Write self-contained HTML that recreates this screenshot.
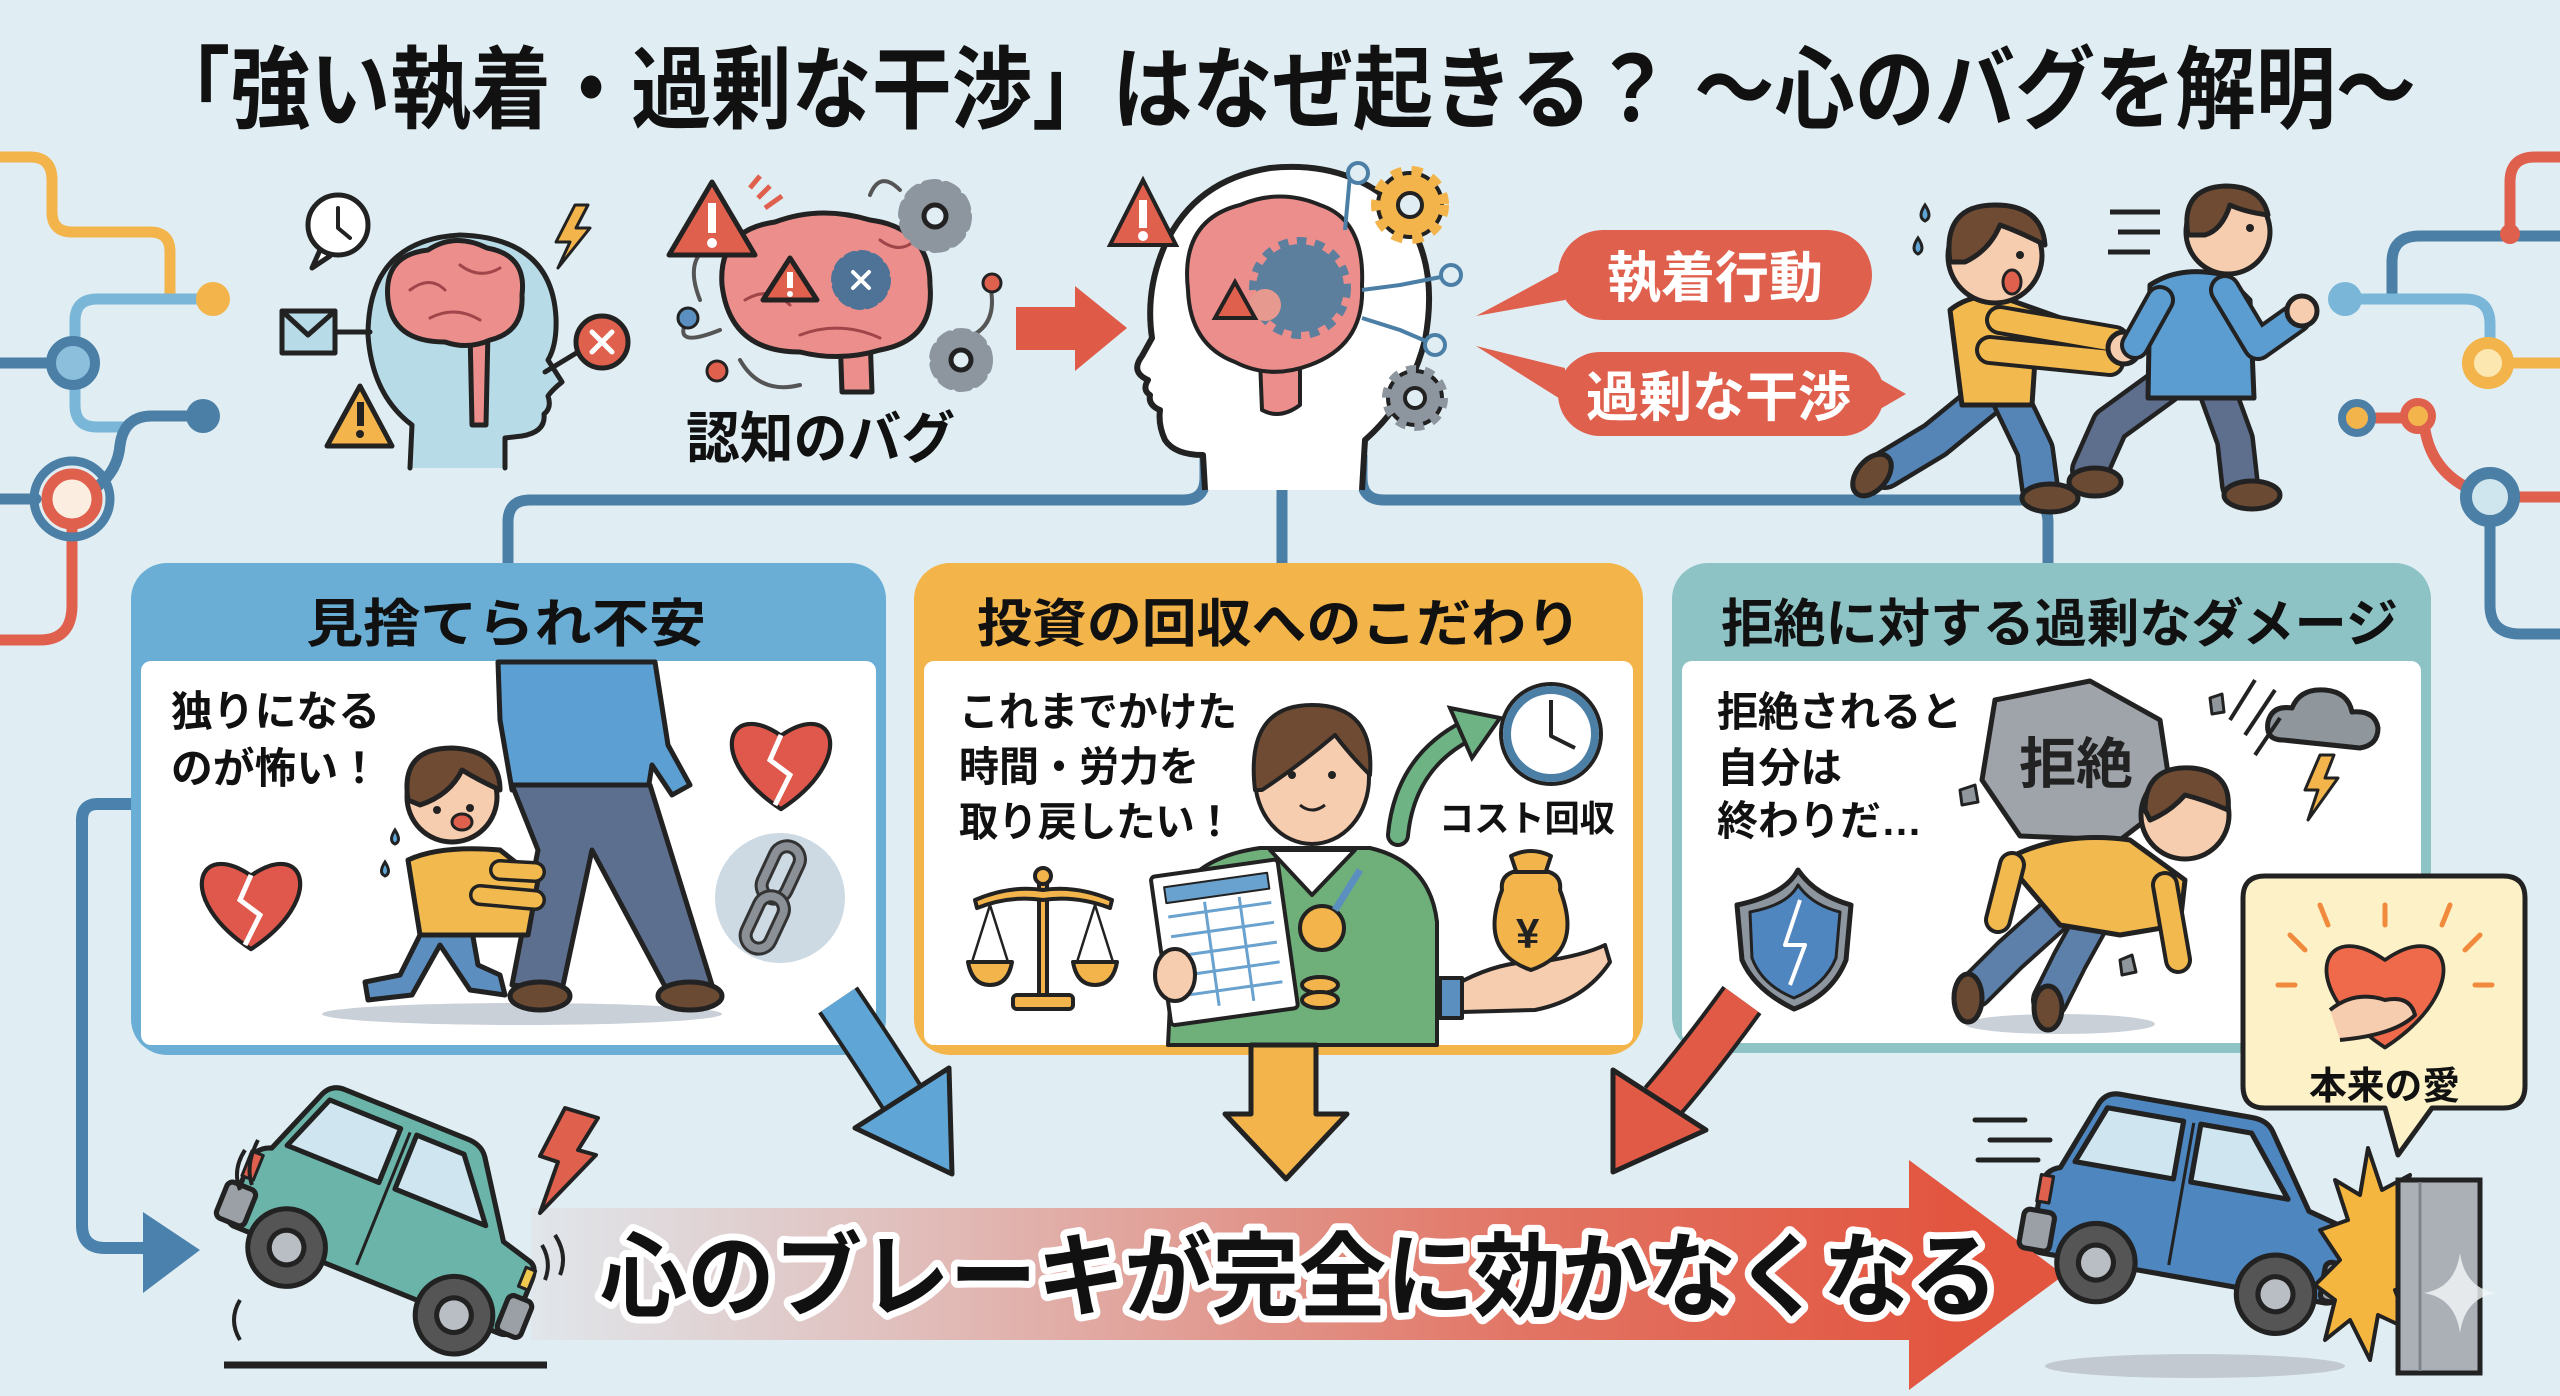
<!DOCTYPE html>
<html><head><meta charset="utf-8"><style>
html,body{margin:0;padding:0;background:#e0eef4;}
svg{display:block}
text{font-family:"Liberation Sans","Noto Sans CJK JP",sans-serif;font-weight:700}
</style></head><body>
<svg width="2560" height="1396" viewBox="0 0 2560 1396" xmlns="http://www.w3.org/2000/svg">
<defs>
<linearGradient id="rg" gradientUnits="userSpaceOnUse" x1="531" y1="0" x2="1960" y2="0">
<stop offset="0" stop-color="#e2553f" stop-opacity="0.05"/>
<stop offset="0.3" stop-color="#e2553f" stop-opacity="0.35"/>
<stop offset="0.7" stop-color="#e2553f" stop-opacity="0.8"/>
<stop offset="1" stop-color="#e2553f"/>
</linearGradient>
<path id="heart" d="M0,42 C-72,-5 -52,-64 0,-28 C52,-64 72,-5 0,42 Z"/>
</defs>
<rect width="2560" height="1396" fill="#e0eef4"/>

<!-- title -->
<text x="150" y="121" font-size="90" font-weight="900" textLength="2266" lengthAdjust="spacingAndGlyphs" fill="#111">「強い執着・過剰な干渉」はなぜ起きる？ ～心のバグを解明～</text>

<!-- left circuit -->
<g fill="none" stroke-width="11" stroke-linecap="round">
<path d="M0,157 H30 Q52,157 52,180 V212 Q52,232 72,232 H150 Q170,232 170,252 V295" stroke="#f2b44b"/>
<path d="M213,299 H97 Q75,299 75,321 V405 Q75,427 97,427 H125" stroke="#7ab6d8"/>
<path d="M0,363 H50" stroke="#4b7fa6"/>
<path d="M98,486 Q118,470 120,445 Q124,416 152,416 H203" stroke="#4b7fa6"/>
<path d="M0,499 H36" stroke="#4b7fa6"/>
<path d="M72,527 V605 Q72,640 40,640 H0" stroke="#e0604e"/>
</g>
<circle cx="213" cy="299" r="17" fill="#f2b44b"/>
<circle cx="73" cy="363" r="22" fill="#8cbfdc" stroke="#4b7fa6" stroke-width="10"/>
<circle cx="203" cy="416" r="17" fill="#4b7fa6"/>
<circle cx="72" cy="499" r="38" fill="none" stroke="#4b7fa6" stroke-width="9"/>
<circle cx="72" cy="499" r="25" fill="#fbeee0" stroke="#e0604e" stroke-width="11"/>

<!-- right circuit -->
<g fill="none" stroke-width="11" stroke-linecap="round">
<path d="M2560,157 H2535 Q2510,157 2510,182 V234" stroke="#e0604e"/>
<path d="M2560,236 H2420 Q2392,236 2392,262 V295" stroke="#4b7fa6"/>
<path d="M2345,299 H2465 Q2490,299 2490,324 V345" stroke="#7ab6d8"/>
<path d="M2508,363 H2560" stroke="#f2b44b"/>
<path d="M2373,418 H2402" stroke="#e0604e"/>
<path d="M2425,430 Q2432,470 2468,488" stroke="#e0604e"/>
<path d="M2515,497 H2560" stroke="#e0604e"/>
<path d="M2490,521 V605 Q2490,634 2520,634 H2560" stroke="#4b7fa6"/>
</g>
<circle cx="2510" cy="234" r="10" fill="#e0604e"/>
<circle cx="2345" cy="299" r="17" fill="#7ab6d8"/>
<circle cx="2488" cy="363" r="20" fill="#fde7b0" stroke="#f2b44b" stroke-width="12"/>
<circle cx="2357" cy="418" r="15" fill="#f2b44b" stroke="#4b7fa6" stroke-width="8"/>
<circle cx="2418" cy="416" r="14" fill="#f2b44b" stroke="#e0604e" stroke-width="8"/>
<circle cx="2490" cy="497" r="24" fill="#cfe6ee" stroke="#4b7fa6" stroke-width="12"/>

<!-- top connectors -->
<g fill="none" stroke="#4b7fa6" stroke-width="11">
<path d="M1205,455 V478 Q1205,500 1183,500 H530 Q508,500 508,522 V575"/>
<path d="M1282,470 V575"/>
<path d="M1362,455 V478 Q1362,500 1384,500 H2025 Q2048,500 2048,522 V575"/>
</g>

<!-- head 1 -->
<g stroke="#222" stroke-width="5" stroke-linejoin="round" stroke-linecap="round">
<path d="M410,468 L412,425 Q372,395 368,335 Q368,240 460,235 Q552,238 556,318 Q557,345 548,360 L562,382 Q552,390 548,396 Q552,408 544,414 Q546,432 522,436 L505,438 L505,468" fill="#b8dbe8"/>
<path d="M470,330 L472,425 L486,425 L488,330" fill="#ec8e8b"/>
<path d="M388,300 Q383,255 428,250 Q455,232 487,248 Q527,255 522,295 Q524,332 490,340 Q468,350 445,342 Q393,342 388,300Z" fill="#ec8e8b"/>
<path d="M410,290 Q430,275 445,290 M460,265 Q480,280 500,268 M430,318 Q455,305 480,320" fill="none" stroke="#a0454a" stroke-width="3"/>
<path d="M320,250 L312,268 L330,256" fill="#fff"/>
<circle cx="338" cy="225" r="30" fill="#fff"/>
<path d="M338,208 V228 L350,238" fill="none" stroke-width="4"/>
<rect x="282" y="311" width="53" height="42" fill="#b8dbe8"/>
<path d="M282,311 L308,335 L335,311" fill="none"/>
<path d="M335,332 H370" fill="none"/>
<polygon points="327,446 360,386 392,446" fill="#f2b44b"/>
<polygon points="575,205 556,242 570,242 558,268 590,228 576,228 588,205" fill="#f2b44b" stroke-width="3"/>
<path d="M545,372 L578,352" fill="none"/>
<circle cx="602" cy="342" r="26" fill="#e0604e"/>
<path d="M592,332 L612,352 M612,332 L592,352" stroke="#fff" stroke-width="5"/>
</g>
<rect x="357" y="402" width="7" height="24" fill="#222"/><circle cx="360" cy="434" r="4" fill="#222"/>

<!-- brain 2 -->
<g stroke="#222" stroke-width="5" stroke-linejoin="round" stroke-linecap="round">
<path d="M720,330 Q670,350 688,318 M870,195 Q880,170 900,190 M990,285 Q1000,330 960,340 M740,360 Q760,395 800,385 M700,300 Q680,250 725,240" fill="none" stroke="#555" stroke-width="4"/>
<path d="M840,335 L842,392 L872,392 L870,335" fill="#ec8e8b"/>
<path d="M722,285 Q718,230 775,222 Q820,205 870,220 Q930,228 930,285 Q935,340 880,350 Q840,362 800,352 Q730,352 722,285Z" fill="#ec8e8b"/>
<path d="M745,300 Q770,285 790,305 M880,240 Q900,255 915,240 M800,335 Q840,320 880,338" fill="none" stroke="#a0454a" stroke-width="3"/>
<polygon points="669,255 712,182 755,255" fill="#e0604e"/>
<polygon points="763,300 790,258 817,300" fill="#e0604e"/>
<circle cx="935" cy="216" r="30" fill="#8d969f"/>
<circle cx="935" cy="216" r="30" fill="none" stroke="#8d969f" stroke-width="14" stroke-dasharray="10 9"/>
<circle cx="935" cy="216" r="11" fill="#e0eef4"/>
<circle cx="961" cy="360" r="26" fill="#8d969f"/>
<circle cx="961" cy="360" r="26" fill="none" stroke="#8d969f" stroke-width="12" stroke-dasharray="9 8"/>
<circle cx="961" cy="360" r="10" fill="#e0eef4"/>
<circle cx="861" cy="280" r="25" fill="#4f7396"/>
<circle cx="861" cy="280" r="25" fill="none" stroke="#4f7396" stroke-width="10" stroke-dasharray="7 6"/>
<path d="M853,272 L869,288 M869,272 L853,288" stroke="#fff" stroke-width="4"/>
<circle cx="688" cy="318" r="10" fill="#5a8fc0" stroke-width="3"/>
<circle cx="717" cy="371" r="10" fill="#e0604e" stroke-width="3"/>
<circle cx="992" cy="283" r="9" fill="#e0604e" stroke-width="3"/>
</g>
<rect x="708" y="203" width="8" height="30" fill="#fff"/><circle cx="712" cy="243" r="5" fill="#fff"/>
<rect x="787" y="272" width="6" height="16" fill="#fff"/><circle cx="790" cy="294" r="3" fill="#fff"/>
<path d="M758,198 L770,186 M765,208 L782,196 M750,188 L760,176" stroke="#e0604e" stroke-width="5"/>
<text x="686" y="458" font-size="56" textLength="269" lengthAdjust="spacingAndGlyphs" fill="#111">認知のバグ</text>

<!-- red arrow -->
<polygon points="1016,307 1075,307 1075,286 1127,328 1075,371 1075,350 1016,350" fill="#e05a48"/>

<!-- big head -->
<g stroke="#222" stroke-width="6" stroke-linejoin="round">
<path d="M1205,490 L1203,455 Q1175,455 1165,440 Q1158,425 1160,410 Q1148,405 1150,395 Q1142,390 1148,380 Q1130,372 1142,356 L1152,338 Q1145,290 1165,245 Q1195,180 1270,168 Q1350,160 1400,210 Q1440,260 1425,340 Q1410,400 1365,440 L1362,490" fill="#fff"/>
<path d="M1260,360 L1262,410 Q1280,420 1300,405 L1300,360" fill="#ec8e8b" stroke-width="4"/>
<path d="M1188,290 Q1180,220 1240,205 Q1280,188 1320,205 Q1365,220 1362,285 Q1365,345 1310,365 Q1270,380 1235,362 Q1190,345 1188,290Z" fill="#ec8e8b" stroke-width="4"/>
<path d="M1350,175 L1345,230 M1451,275 L1400,285 L1362,290 M1435,345 L1400,330 L1362,318" fill="none" stroke="#4b7fa6" stroke-width="4"/>
</g>
<circle cx="1300" cy="288" r="44" fill="#5c7f9e"/>
<circle cx="1300" cy="288" r="44" fill="none" stroke="#5c7f9e" stroke-width="14" stroke-dasharray="9 8"/>
<circle cx="1265" cy="305" r="16" fill="#e6998f"/>
<circle cx="1358" cy="173" r="10" fill="#e0eef4" stroke="#4b7fa6" stroke-width="4"/>
<circle cx="1451" cy="275" r="10" fill="#e0eef4" stroke="#4b7fa6" stroke-width="4"/>
<circle cx="1435" cy="345" r="10" fill="#e0eef4" stroke="#4b7fa6" stroke-width="4"/>
<g stroke="#222" stroke-width="4">
<polygon points="1110,245 1143,180 1176,245" fill="#e0604e"/>
<polygon points="1215,318 1235,282 1255,318" fill="#e0604e"/>
<circle cx="1410" cy="205" r="32" fill="#f2b44b"/>
<circle cx="1410" cy="205" r="32" fill="none" stroke="#f2b44b" stroke-width="14" stroke-dasharray="10 9"/>
<circle cx="1410" cy="205" r="12" fill="#e0eef4"/>
<circle cx="1415" cy="398" r="27" fill="#8d969f"/>
<circle cx="1415" cy="398" r="27" fill="none" stroke="#8d969f" stroke-width="12" stroke-dasharray="9 8"/>
<circle cx="1415" cy="398" r="10" fill="#e0eef4"/>
</g>
<rect x="1139" y="200" width="8" height="28" fill="#fff"/><circle cx="1143" cy="236" r="5" fill="#fff"/>

<!-- pills -->
<polygon points="1565,268 1476,316 1565,300" fill="#e0604e"/>
<rect x="1558" y="230" width="314" height="90" rx="45" fill="#e0604e"/>
<text x="1607" y="297" font-size="55" textLength="216" lengthAdjust="spacingAndGlyphs" fill="#fff">執着行動</text>
<polygon points="1565,368 1476,346 1565,402" fill="#e0604e"/>
<polygon points="1875,376 1906,394 1875,412" fill="#e0604e"/>
<rect x="1558" y="352" width="326" height="84" rx="42" fill="#e0604e"/>
<text x="1586" y="416" font-size="54" textLength="265" lengthAdjust="spacingAndGlyphs" fill="#fff">過剰な干渉</text>

<!-- running figures -->
<g fill="none" stroke-linecap="round" stroke-linejoin="round">
<path d="M2165,385 L2110,425 L2090,470" stroke="#222" stroke-width="40"/>
<path d="M2165,385 L2110,425 L2090,470" stroke="#5d6f8d" stroke-width="31"/>
<path d="M2215,385 L2235,440 L2240,485" stroke="#222" stroke-width="40"/>
<path d="M2215,385 L2235,440 L2240,485" stroke="#5d6f8d" stroke-width="31"/>
<path d="M1990,395 L1935,440 L1885,470" stroke="#222" stroke-width="40"/>
<path d="M1990,395 L1935,440 L1885,470" stroke="#5584b6" stroke-width="31"/>
<path d="M2010,398 L2035,450 L2040,488" stroke="#222" stroke-width="40"/>
<path d="M2010,398 L2035,450 L2040,488" stroke="#5584b6" stroke-width="31"/>
</g>
<g stroke="#222" stroke-width="5" stroke-linejoin="round">
<ellipse cx="2095" cy="482" rx="26" ry="14" fill="#6b4a33"/>
<ellipse cx="2252" cy="495" rx="28" ry="14" fill="#6b4a33"/>
<ellipse cx="1872" cy="475" rx="24" ry="15" fill="#6b4a33" transform="rotate(-50 1872 475)"/>
<ellipse cx="2050" cy="498" rx="28" ry="14" fill="#6b4a33"/>
<path d="M2150,285 Q2180,265 2225,275 L2250,300 L2254,398 L2148,398 Z" fill="#5b9dd0"/>
<path d="M2225,290 L2258,345 L2296,318" fill="none" stroke="#222" stroke-width="32" stroke-linecap="round"/>
<path d="M2225,290 L2258,345 L2296,318" fill="none" stroke="#5b9dd0" stroke-width="24" stroke-linecap="round"/>
<circle cx="2302" cy="311" r="15" fill="#f7cdb0"/>
<path d="M1950,310 Q1975,290 2010,300 L2100,332 L2098,368 L2035,360 L2032,405 L1962,405 Z" fill="#f2b94f"/>
<path d="M2000,320 L2115,340 M1990,350 L2110,362" fill="none" stroke="#222" stroke-width="30" stroke-linecap="round"/>
<path d="M2000,320 L2115,340 M1990,350 L2110,362" fill="none" stroke="#f2b94f" stroke-width="22" stroke-linecap="round"/>
<circle cx="2124" cy="348" r="16" fill="#f7cdb0"/>
<path d="M2160,300 L2135,345" fill="none" stroke="#222" stroke-width="30" stroke-linecap="round"/>
<path d="M2160,300 L2135,345" fill="none" stroke="#5b9dd0" stroke-width="22" stroke-linecap="round"/>
<circle cx="2228" cy="232" r="42" fill="#f7cdb0"/>
<path d="M2188,235 Q2180,188 2225,186 Q2262,186 2268,215 Q2245,212 2230,205 Q2222,230 2205,235 Z" fill="#6e4b32"/>
<circle cx="1995" cy="256" r="47" fill="#f7cdb0"/>
<path d="M1950,262 Q1942,205 1995,205 Q2042,205 2045,245 Q2020,232 2000,225 Q1990,250 1965,262 Z" fill="#6e4b32"/>
<ellipse cx="2012" cy="282" rx="9" ry="12" fill="#e0604e" stroke-width="3"/>
</g>
<circle cx="2020" cy="255" r="4" fill="#222"/><circle cx="2250" cy="228" r="4" fill="#222"/>
<path d="M2110,212 H2160 M2118,232 H2160 M2108,252 H2150" stroke="#222" stroke-width="5"/>
<path d="M1925,205 q-8,12 0,16 q8,-4 0,-16z M1918,238 q-8,12 0,16 q8,-4 0,-16z" fill="#5fa6d6" stroke="#222" stroke-width="3"/>

<!-- left connector arrow to car -->
<path d="M131,804 H98 Q82,804 82,820 V1225 Q82,1248 105,1248 H152" fill="none" stroke="#4b82ad" stroke-width="12"/>
<polygon points="143,1212 200,1250 143,1293" fill="#4b82ad"/>

<!-- panels -->
<rect x="131" y="563" width="755" height="492" rx="36" fill="#6aaed6"/>
<rect x="141" y="661" width="735" height="384" rx="10" fill="#fff"/>
<text x="306" y="642" font-size="52" textLength="400" lengthAdjust="spacingAndGlyphs" fill="#111">見捨てられ不安</text>
<rect x="914" y="563" width="729" height="492" rx="36" fill="#f3b54a"/>
<rect x="924" y="661" width="709" height="384" rx="10" fill="#fff"/>
<text x="977" y="642" font-size="52" textLength="604" lengthAdjust="spacingAndGlyphs" fill="#111">投資の回収へのこだわり</text>
<rect x="1672" y="563" width="759" height="490" rx="36" fill="#8ec3c6"/>
<rect x="1682" y="661" width="739" height="382" rx="10" fill="#fff"/>
<text x="1721" y="642" font-size="52" textLength="677" lengthAdjust="spacingAndGlyphs" fill="#111">拒絶に対する過剰なダメージ</text>

<!-- panel 1 content -->
<text x="171" y="726" font-size="42" textLength="209" lengthAdjust="spacingAndGlyphs" fill="#111">独りになる</text>
<text x="171" y="783" font-size="42" textLength="209" lengthAdjust="spacingAndGlyphs" fill="#111">のが怖い！</text>
<ellipse cx="522" cy="1014" rx="200" ry="11" fill="#c9d0d8"/>
<g stroke="#222" stroke-width="5" stroke-linejoin="round">
<path d="M505,662 L655,662 L668,745 L690,785 L672,795 L652,765 L648,790 L512,790 L500,720 L498,662 Z" fill="#5b9fd3"/>
<path d="M512,785 L650,785 L712,985 L668,992 L592,850 L562,990 L512,985 L538,850 Z" fill="#5d6f8e"/>
<ellipse cx="540" cy="996" rx="30" ry="14" fill="#6b4a33"/>
<ellipse cx="690" cy="996" rx="32" ry="14" fill="#6b4a33"/>
<path d="M425,925 L400,975 L365,982 L368,1000 L412,995 L440,945 L470,990 L505,995 L500,975 L478,965 L470,920 Z" fill="#5c8fc0"/>
<path d="M408,860 Q440,845 500,850 L538,880 L528,935 L420,935 Z" fill="#f2b94f"/>
<path d="M500,870 L535,872 M480,895 L535,900" stroke="#222" stroke-width="22" stroke-linecap="round"/>
<path d="M500,870 L535,872 M480,895 L535,900" stroke="#f2b94f" stroke-width="15" stroke-linecap="round"/>
<circle cx="452" cy="797" r="45" fill="#f7cdb0"/>
<path d="M408,800 Q400,748 452,748 Q500,750 500,790 Q478,780 462,770 Q450,795 420,805 Z" fill="#6e4b32"/>
<ellipse cx="462" cy="822" rx="10" ry="8" fill="#e0604e" stroke-width="3"/>
<use href="#heart" transform="translate(781,765) scale(1.05)" fill="#e0574b" stroke-width="4"/>
<use href="#heart" transform="translate(251,905) scale(1.05)" fill="#e0574b" stroke-width="4"/>
</g>
<path d="M781,735 L770,760 L790,775 L775,805" fill="none" stroke="#fff" stroke-width="5"/>
<path d="M251,875 L240,900 L260,915 L245,945" fill="none" stroke="#fff" stroke-width="5"/>
<circle cx="780" cy="898" r="65" fill="#cddae3"/>
<g fill="none" stroke-linecap="round">
<rect x="768" y="845" width="26" height="55" rx="13" transform="rotate(25 781 872)" stroke="#333" stroke-width="14"/>
<rect x="768" y="845" width="26" height="55" rx="13" transform="rotate(25 781 872)" stroke="#8a9096" stroke-width="8"/>
<rect x="752" y="895" width="26" height="55" rx="13" transform="rotate(25 765 922)" stroke="#333" stroke-width="14"/>
<rect x="752" y="895" width="26" height="55" rx="13" transform="rotate(25 765 922)" stroke="#8a9096" stroke-width="8"/>
</g>
<circle cx="437" cy="810" r="4" fill="#222"/><circle cx="470" cy="808" r="4" fill="#222"/>
<path d="M395,830 q-7,11 0,14 q7,-3 0,-14z M385,862 q-7,11 0,14 q7,-3 0,-14z" fill="#5fa6d6" stroke="#222" stroke-width="3"/>

<!-- panel 2 content -->
<text x="959" y="726" font-size="41" textLength="278" lengthAdjust="spacingAndGlyphs" fill="#111">これまでかけた</text>
<text x="959" y="781" font-size="41" textLength="240" lengthAdjust="spacingAndGlyphs" fill="#111">時間・労力を</text>
<text x="959" y="836" font-size="41" textLength="275" lengthAdjust="spacingAndGlyphs" fill="#111">取り戻したい！</text>
<g stroke="#222" stroke-width="4" stroke-linejoin="round">
<path d="M1039,880 H1047 V1000 H1039 Z" fill="#f2b44b"/>
<path d="M975,900 Q1010,885 1043,890 Q1076,885 1112,900 L1110,908 Q1076,895 1043,900 Q1010,895 977,908 Z" fill="#f2b44b"/>
<circle cx="1043" cy="876" r="8" fill="#f2b44b"/>
<path d="M990,905 L972,962 M990,905 L1008,962 M1095,905 L1077,962 M1095,905 L1113,962" fill="none" stroke-width="2.5"/>
<path d="M968,962 H1012 Q1008,985 990,985 Q972,985 968,962Z" fill="#f2b44b"/>
<path d="M1073,962 H1117 Q1113,985 1095,985 Q1077,985 1073,962Z" fill="#f2b44b"/>
<rect x="1013" y="995" width="60" height="14" rx="4" fill="#f2b44b"/>
<path d="M1168,1045 L1175,905 Q1190,858 1260,848 L1370,848 Q1430,862 1437,922 L1437,1045 Z" fill="#6fb07a"/>
<path d="M1270,850 L1312,895 L1355,850 Z" fill="#fff"/>
<ellipse cx="1312" cy="778" rx="57" ry="66" fill="#f7cdb0"/>
<path d="M1255,790 Q1245,705 1312,705 Q1375,705 1370,775 Q1350,755 1335,735 Q1300,765 1262,790 Z" fill="#6e4b32"/>
<g transform="rotate(-8 1220 940)">
<rect x="1160" y="868" width="128" height="150" rx="4" fill="#fff"/>
<rect x="1172" y="880" width="104" height="16" fill="#6aa2cf" stroke-width="2"/>
<path d="M1172,910 H1276 M1172,930 H1276 M1172,950 H1276 M1172,970 H1276 M1172,990 H1276 M1210,900 V1005 M1245,900 V1005" stroke="#6aa2cf" stroke-width="3"/>
</g>
<ellipse cx="1175" cy="975" rx="20" ry="26" fill="#f7cdb0"/>
<circle cx="1322" cy="928" r="22" fill="#f2b44b"/>
<ellipse cx="1320" cy="985" rx="18" ry="8" fill="#f2b44b"/>
<ellipse cx="1320" cy="1000" rx="18" ry="8" fill="#f2b44b"/>
<path d="M1335,910 L1360,870" stroke="#5a8fc0" stroke-width="7"/>
<circle cx="1551" cy="734" r="50" fill="#fff" stroke-width="4"/>
<circle cx="1551" cy="734" r="44" fill="none" stroke="#4b7fa6" stroke-width="8"/>
<path d="M1551,700 V736 L1575,748" fill="none" stroke-width="4"/>
<path d="M1455,985 Q1500,960 1540,962 Q1585,955 1605,945 L1610,962 Q1585,1000 1535,1010 L1462,1012 Z" fill="#f7cdb0"/>
<path d="M1502,890 Q1500,875 1516,871 L1511,856 Q1531,846 1551,856 L1546,871 Q1562,875 1560,890 Q1584,952 1531,970 Q1478,952 1502,890Z" fill="#f2b44b"/>
<path d="M1512,872 H1550" stroke-width="4"/>
<rect x="1440" y="978" width="22" height="40" fill="#5a8fc0"/>
</g>
<text x="1516" y="948" font-size="42" fill="#222" font-weight="700">¥</text>
<path d="M1398,835 Q1405,762 1468,730" fill="none" stroke="#222" stroke-width="24" stroke-linecap="round"/>
<path d="M1398,835 Q1405,762 1468,730" fill="none" stroke="#6db384" stroke-width="16" stroke-linecap="round"/>
<polygon points="1450,708 1500,718 1472,758" fill="#6db384" stroke="#222" stroke-width="4"/>
<circle cx="1292" cy="775" r="4" fill="#222"/><circle cx="1332" cy="775" r="4" fill="#222"/>
<path d="M1300,805 Q1312,815 1325,805" fill="none" stroke="#222" stroke-width="3"/>
<text x="1439" y="831" font-size="36" textLength="176" lengthAdjust="spacingAndGlyphs" fill="#111">コスト回収</text>

<!-- panel 3 content -->
<text x="1717" y="726" font-size="41" textLength="245" lengthAdjust="spacingAndGlyphs" fill="#111">拒絶されると</text>
<text x="1717" y="782" font-size="41" textLength="125" lengthAdjust="spacingAndGlyphs" fill="#111">自分は</text>
<text x="1717" y="835" font-size="41" textLength="205" lengthAdjust="spacingAndGlyphs" fill="#111">終わりだ…</text>
<ellipse cx="2060" cy="1024" rx="95" ry="10" fill="#c9d0d8"/>
<g stroke="#222" stroke-width="5" stroke-linejoin="round">
<path d="M1737,905 Q1785,895 1798,870 Q1815,895 1851,905 L1846,960 Q1832,995 1794,1009 Q1755,990 1742,960 Z" fill="#8d969f"/>
<path d="M1750,912 Q1788,905 1798,885 Q1812,905 1840,912 L1836,958 Q1825,985 1794,998 Q1762,985 1752,958 Z" fill="#4f86c0" stroke-width="3"/>
<path d="M1800,900 L1785,945 L1805,945 L1790,985" fill="none" stroke="#fff" stroke-width="4"/>
<path d="M2060,910 L2010,955 L1975,990" fill="none" stroke="#222" stroke-width="38" stroke-linecap="round"/>
<path d="M2060,910 L2010,955 L1975,990" fill="none" stroke="#5c80aa" stroke-width="30" stroke-linecap="round"/>
<path d="M2095,915 L2070,960 L2050,1000" fill="none" stroke="#222" stroke-width="38" stroke-linecap="round"/>
<path d="M2095,915 L2070,960 L2050,1000" fill="none" stroke="#5c80aa" stroke-width="30" stroke-linecap="round"/>
<ellipse cx="1968" cy="998" rx="14" ry="24" fill="#6b4a33"/>
<ellipse cx="2048" cy="1008" rx="14" ry="22" fill="#6b4a33"/>
<polygon points="1995,700 2090,681 2160,720 2172,800 2120,840 2020,836 1982,780" fill="#9ea4aa"/>
<path d="M2005,860 Q2060,830 2130,840 L2185,880 L2180,925 L2120,935 L2060,925 Z" fill="#f2b94f"/>
<path d="M2012,865 L1998,920 M2165,885 L2178,960" fill="none" stroke="#222" stroke-width="28" stroke-linecap="round"/>
<path d="M2012,865 L1998,920 M2165,885 L2178,960" fill="none" stroke="#f2b94f" stroke-width="20" stroke-linecap="round"/>
<circle cx="2185" cy="815" r="44" fill="#f7cdb0"/>
<path d="M2145,810 Q2145,765 2192,768 Q2232,772 2228,810 Q2205,800 2185,795 Q2170,812 2150,820 Z" fill="#6e4b32"/>
<path d="M2283,740 Q2265,740 2268,722 Q2272,705 2292,708 Q2300,688 2325,690 Q2348,692 2352,712 Q2375,710 2378,728 Q2378,745 2360,748 Z" fill="#8f969c"/>
<polygon points="2320,755 2305,790 2318,790 2308,820 2338,778 2325,778 2334,755" fill="#f2b44b" stroke-width="3"/>
<polygon points="1960,790 1975,785 1978,802 1962,805" fill="#8f969c" stroke-width="3"/>
<polygon points="2210,698 2222,694 2224,712 2212,714" fill="#8f969c" stroke-width="3"/>
<polygon points="2120,960 2132,955 2136,972 2122,975" fill="#8f969c" stroke-width="3"/>
</g>
<text x="2019" y="783" font-size="55" textLength="114" lengthAdjust="spacingAndGlyphs" fill="#222">拒絶</text>
<path d="M2230,720 L2255,680 M2245,735 L2275,690 M2255,755 L2280,718" stroke="#222" stroke-width="4"/>

<!-- yellow box -->
<g stroke="#222" stroke-width="5" stroke-linejoin="round">
<path d="M2265,876 H2503 Q2525,876 2525,898 V1086 Q2525,1108 2503,1108 H2432 L2398,1155 L2385,1108 H2265 Q2243,1108 2243,1086 V898 Q2243,876 2265,876 Z" fill="#fdf1c7"/>
<use href="#heart" transform="translate(2385,995) scale(1.25)" fill="#ef6a4b" stroke-width="3"/>
<path d="M2330,1010 Q2355,990 2385,1000 Q2410,995 2415,1015 Q2395,1035 2340,1040" fill="#f7cdb0" stroke-width="4"/>
</g>
<path d="M2290,935 L2305,950 M2480,935 L2465,950 M2385,905 V925 M2320,905 L2328,925 M2450,905 L2442,925 M2278,985 H2295 M2475,985 H2492" stroke="#f08a3c" stroke-width="5" stroke-linecap="round"/>
<text x="2309" y="1099" font-size="38" textLength="151" lengthAdjust="spacingAndGlyphs" fill="#111">本来の愛</text>

<!-- down arrows -->
<path d="M838,1000 Q872,1050 905,1102" fill="none" stroke="#222" stroke-width="48"/>
<path d="M838,1000 Q872,1050 905,1102" fill="none" stroke="#5fa6d6" stroke-width="40"/>
<polygon points="855,1128 949,1068 952,1174" fill="#5fa6d6" stroke="#222" stroke-width="5" stroke-linejoin="round"/>
<polygon points="1251,1045 1316,1045 1316,1114 1347,1114 1286,1179 1225,1114 1251,1114" fill="#f2b44b" stroke="#222" stroke-width="5" stroke-linejoin="round"/>
<path d="M1742,1000 Q1700,1058 1662,1102" fill="none" stroke="#222" stroke-width="48"/>
<path d="M1742,1000 Q1700,1058 1662,1102" fill="none" stroke="#e05a46" stroke-width="40"/>
<polygon points="1613,1070 1706,1130 1613,1172" fill="#e05a46" stroke="#222" stroke-width="5" stroke-linejoin="round"/>

<!-- big red arrow -->
<path d="M531,1208 H1909 V1160 L2064,1275 L1909,1390 V1340 H531 Z" fill="url(#rg)"/>
<text x="600" y="1309" font-size="92" font-weight="900" textLength="1398" lengthAdjust="spacingAndGlyphs" fill="#111" stroke="#fff" stroke-width="14" stroke-linejoin="round" paint-order="stroke">心のブレーキが完全に効かなくなる</text>

<!-- left car -->
<line x1="224" y1="1365" x2="547" y2="1365" stroke="#222" stroke-width="7"/>
<g transform="translate(388,1228) rotate(22) scale(1.02)" stroke="#222" stroke-width="5" stroke-linejoin="round">
<path d="M-150,40 L-150,-10 Q-150,-25 -135,-30 L-110,-95 Q-105,-110 -90,-110 L40,-110 Q55,-110 62,-100 L110,-30 L140,-22 Q150,-20 150,-5 L150,45 Q150,55 140,55 L-140,55 Q-150,55 -150,40 Z" fill="#6ab4a9"/>
<path d="M-100,-95 L-25,-95 L-25,-38 L-122,-38 Z" fill="#cfe6f0"/>
<path d="M-8,-95 L42,-95 L88,-38 L-8,-38 Z" fill="#cfe6f0"/>
<path d="M-15,-95 V45" fill="none" stroke-width="3"/>
<rect x="-162" y="15" width="30" height="38" rx="6" fill="#9aa0a6"/>
<rect x="135" y="15" width="25" height="38" rx="6" fill="#9aa0a6"/>
<rect x="-152" y="-20" width="12" height="26" fill="#e0604e" stroke-width="3"/>
<rect x="140" y="-15" width="10" height="20" fill="#f2c94f" stroke-width="3"/>
<circle cx="-85" cy="55" r="38" fill="#555"/>
<circle cx="-85" cy="55" r="17" fill="#b8bec4"/>
<circle cx="92" cy="55" r="38" fill="#555"/>
<circle cx="92" cy="55" r="17" fill="#b8bec4"/>
</g>
<polygon points="565,1108 598,1118 578,1150 596,1155 540,1213 558,1162 540,1156" fill="#e0604e" stroke="#222" stroke-width="4" stroke-linejoin="round"/>
<path d="M245,1150 Q232,1170 240,1190 M258,1140 Q245,1165 252,1185 M555,1235 Q568,1255 560,1275 M542,1245 Q552,1262 545,1280 M240,1300 Q228,1320 240,1340" fill="none" stroke="#222" stroke-width="4"/>

<!-- right car -->
<ellipse cx="2195" cy="1366" rx="150" ry="12" fill="#c2c9d0"/>
<path d="M1975,1120 H2025 M1990,1140 H2050 M1978,1160 H2038" stroke="#222" stroke-width="5" stroke-linecap="round"/>
<g transform="translate(2192,1222) rotate(10) scale(1.03)" stroke="#222" stroke-width="5" stroke-linejoin="round">
<path d="M-150,40 L-150,-10 Q-150,-25 -135,-30 L-110,-95 Q-105,-110 -90,-110 L40,-110 Q55,-110 62,-100 L110,-30 L140,-22 Q150,-20 150,-5 L150,45 Q150,55 140,55 L-140,55 Q-150,55 -150,40 Z" fill="#4e86bf"/>
<path d="M-100,-95 L-25,-95 L-25,-38 L-122,-38 Z" fill="#cfe6f0"/>
<path d="M-8,-95 L42,-95 L88,-38 L-8,-38 Z" fill="#cfe6f0"/>
<path d="M-15,-95 V45" fill="none" stroke-width="3"/>
<rect x="-162" y="15" width="30" height="38" rx="6" fill="#9aa0a6"/>
<rect x="135" y="15" width="25" height="38" rx="6" fill="#9aa0a6"/>
<rect x="-152" y="-20" width="12" height="26" fill="#e0604e" stroke-width="3"/>
<circle cx="-85" cy="55" r="38" fill="#555"/>
<circle cx="-85" cy="55" r="17" fill="#b8bec4"/>
<circle cx="92" cy="55" r="38" fill="#555"/>
<circle cx="92" cy="55" r="17" fill="#b8bec4"/>
</g>
<polygon points="2368,1148 2382,1190 2410,1175 2398,1215 2425,1225 2400,1250 2422,1280 2395,1290 2410,1330 2378,1315 2370,1360 2350,1320 2325,1340 2335,1300 2315,1285 2340,1260 2320,1230 2348,1220 2335,1180 2360,1195" fill="#f4b63f" stroke="#222" stroke-width="4" stroke-linejoin="round"/>
<rect x="2398" y="1180" width="82" height="193" fill="#aab0b6" stroke="#222" stroke-width="5"/>
<line x1="2420" y1="1182" x2="2420" y2="1371" stroke="#7d848a" stroke-width="3"/>
<path d="M2460,1253 Q2465,1288 2496,1293 Q2465,1298 2460,1333 Q2455,1298 2424,1293 Q2455,1288 2460,1253 Z" fill="#f4f7f9" opacity="0.8"/>
</svg>
</body></html>
